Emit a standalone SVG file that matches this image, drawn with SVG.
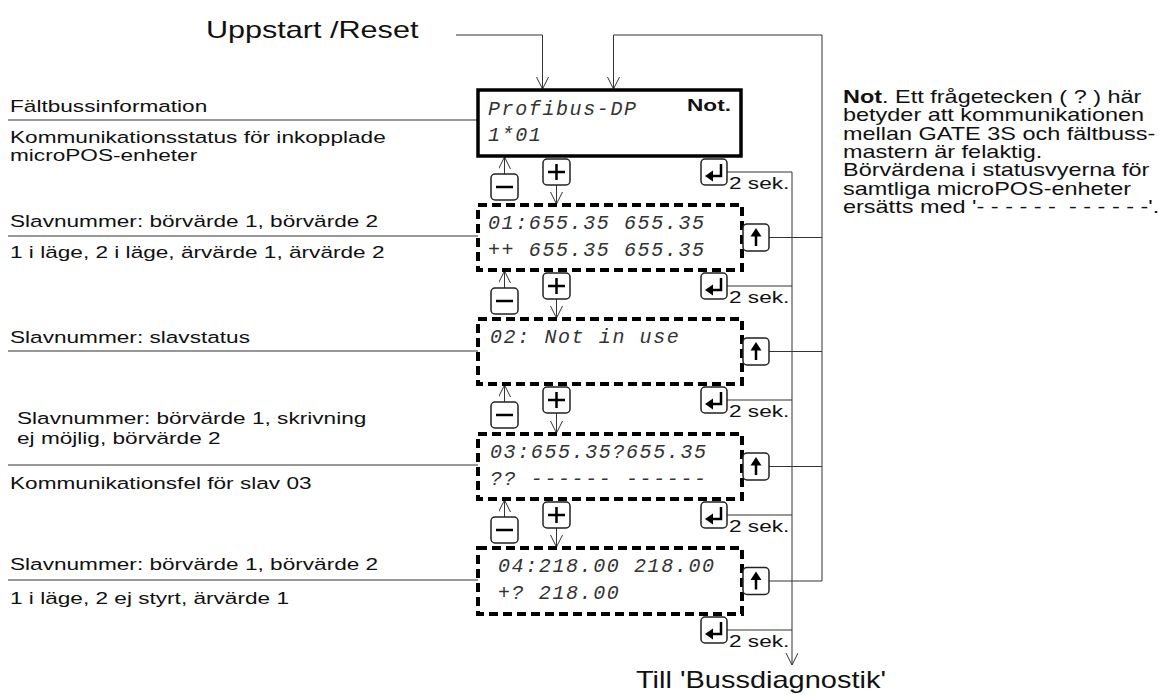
<svg xmlns="http://www.w3.org/2000/svg" width="1171" height="695" viewBox="0 0 1171 695">
<defs>
<style>
.lbl{font-family:"Liberation Sans",Arial,sans-serif;font-size:17px;fill:#111}
.big{font-family:"Liberation Sans",Arial,sans-serif;font-size:23px;fill:#111}
.note{font-family:"Liberation Sans",Arial,sans-serif;font-size:17.5px;fill:#111;white-space:pre}
.lcd{font-family:"Liberation Mono","Courier New",monospace;font-style:italic;font-size:20px;letter-spacing:1.6px;fill:#333;white-space:pre}
.ln{stroke:#333;stroke-width:1;fill:none}
.frame{fill:#fff;stroke:#000;stroke-width:3.5}
.box{fill:#fff;stroke:#000;stroke-width:4;stroke-dasharray:9 5}
.btn{fill:#fff;stroke:#222;stroke-width:1.5}
.ico{stroke:#000;stroke-width:2.5;fill:none}
</style>
<marker id="v" markerUnits="userSpaceOnUse" markerWidth="14" markerHeight="14" refX="12" refY="6" orient="auto" viewBox="0 0 14 14">
<path d="M0,0 L12,6 L0,12" fill="none" stroke="#333" stroke-width="1"/>
</marker>
<g id="bPlus"><rect x="0" y="0" width="27" height="26" rx="4" class="btn"/><path d="M5,13H22M13.5,5V21" class="ico"/></g>
<g id="bMinus"><rect x="0" y="0" width="27" height="26" rx="4" class="btn"/><path d="M5,13H22" class="ico" stroke-width="3"/></g>
<g id="bEnter"><rect x="0" y="0" width="26" height="26" rx="4" class="btn"/><path d="M20,5V17H11" class="ico" stroke-width="3"/><path d="M4,17L12,11.5V22.5Z" fill="#000"/></g>
<g id="bUp"><rect x="0" y="0" width="26" height="27" rx="4" class="btn"/><path d="M13,11V22" class="ico" stroke-width="3"/><path d="M13,4L18.5,12.5H7.5Z" fill="#000"/></g>
</defs>
<rect width="1171" height="695" fill="#fff"/>

<g id="connectors">
<path class="ln" d="M456,35H542.5V89" marker-end="url(#v)"/>
<path class="ln" d="M822,581V35H613.5V89" marker-end="url(#v)"/>
<path class="ln" d="M769,237.5H822M769,351.5H822M769,466.5H822M769,581H822"/>
<path class="ln" d="M727,172H792M727,286H792M727,400H792M727,515H792M727,630H792"/>
<path class="ln" d="M792,172V665" marker-end="url(#v)"/>
<path class="ln" d="M504.5,174V157" marker-end="url(#v)"/>
<path class="ln" d="M504.5,288V271" marker-end="url(#v)"/>
<path class="ln" d="M504.5,402V385" marker-end="url(#v)"/>
<path class="ln" d="M504.5,517V500" marker-end="url(#v)"/>
<path class="ln" d="M556.5,185V204" marker-end="url(#v)"/>
<path class="ln" d="M556.5,299V318" marker-end="url(#v)"/>
<path class="ln" d="M556.5,413V433" marker-end="url(#v)"/>
<path class="ln" d="M556.5,528V547" marker-end="url(#v)"/>
<path class="ln" d="M8,120H498M8,236H498M8,351H498M8,465H498M8,580H498"/>
</g>

<g id="title-start"><text class="big" transform="translate(206 38) scale(1.33 1)">Uppstart /Reset</text></g>
<g id="title-end"><text class="big" transform="translate(636 688) scale(1.26 1)">Till 'Bussdiagnostik'</text></g>

<g id="screen-main">
<rect class="frame" x="478" y="90" width="263" height="66"/>
<text class="lcd" x="488" y="115">Profibus-DP</text>
<text class="lcd" x="488" y="141">1*01</text>
<text class="lbl" font-weight="bold" transform="translate(687 111) scale(1.33 1)">Not.</text>
</g>

<g id="screen-01">
<rect class="box" x="478" y="205" width="264" height="65"/>
<text class="lcd" x="488" y="229">01:655.35 655.35</text>
<text class="lcd" x="488" y="256">++ 655.35 655.35</text>
</g>
<g id="screen-02">
<rect class="box" x="478" y="319" width="264" height="65"/>
<text class="lcd" x="490" y="343">02: Not in use</text>
</g>
<g id="screen-03">
<rect class="box" x="478" y="434" width="264" height="65"/>
<text class="lcd" x="490" y="458">03:655.35?655.35</text>
<text class="lcd" x="490" y="485">?? ------ ------</text>
</g>
<g id="screen-04">
<rect class="box" x="478" y="548" width="264" height="66"/>
<text class="lcd" x="498" y="572">04:218.00 218.00</text>
<text class="lcd" x="498" y="599">+? 218.00</text>
</g>

<g id="buttons">
<use href="#bMinus" x="491" y="174"/><use href="#bPlus" x="543" y="159"/><use href="#bEnter" x="701" y="159"/>
<use href="#bMinus" x="491" y="288"/><use href="#bPlus" x="543" y="273"/><use href="#bEnter" x="701" y="273"/>
<use href="#bMinus" x="491" y="402"/><use href="#bPlus" x="543" y="387"/><use href="#bEnter" x="701" y="387"/>
<use href="#bMinus" x="491" y="517"/><use href="#bPlus" x="543" y="502"/><use href="#bEnter" x="701" y="502"/>
<use href="#bEnter" x="701" y="617"/>
<use href="#bUp" x="743" y="224"/><use href="#bUp" x="743" y="338"/><use href="#bUp" x="743" y="453"/><use href="#bUp" x="743" y="567.5"/>
</g>

<g id="delays">
<text class="lbl" transform="translate(729 189) scale(1.33 1)">2 sek.</text>
<text class="lbl" transform="translate(729 303) scale(1.33 1)">2 sek.</text>
<text class="lbl" transform="translate(729 417) scale(1.33 1)">2 sek.</text>
<text class="lbl" transform="translate(729 532) scale(1.33 1)">2 sek.</text>
<text class="lbl" transform="translate(729 647) scale(1.33 1)">2 sek.</text>
</g>

<g id="labels">
<text class="lbl" transform="translate(10 112) scale(1.33 1)">Fältbussinformation</text>
<text class="lbl" transform="translate(10 143) scale(1.33 1)">Kommunikationsstatus för inkopplade</text>
<text class="lbl" transform="translate(10 161) scale(1.33 1)">microPOS-enheter</text>
<text class="lbl" transform="translate(10 227) scale(1.33 1)">Slavnummer: börvärde 1, börvärde 2</text>
<text class="lbl" transform="translate(10 258) scale(1.33 1)">1 i läge, 2 i läge, ärvärde 1, ärvärde 2</text>
<text class="lbl" transform="translate(10 343) scale(1.33 1)">Slavnummer: slavstatus</text>
<text class="lbl" transform="translate(17 424) scale(1.33 1)">Slavnummer: börvärde 1, skrivning</text>
<text class="lbl" transform="translate(17 444) scale(1.33 1)">ej möjlig, börvärde 2</text>
<text class="lbl" transform="translate(10 489) scale(1.33 1)">Kommunikationsfel för slav 03</text>
<text class="lbl" transform="translate(10 570) scale(1.33 1)">Slavnummer: börvärde 1, börvärde 2</text>
<text class="lbl" transform="translate(10 604) scale(1.33 1)">1 i läge, 2 ej styrt, ärvärde 1</text>
</g>

<g id="note">
<text class="note" transform="translate(843 103) scale(1.34 1)"><tspan font-weight="bold">Not</tspan>. Ett frågetecken ( ? ) här</text>
<text class="note" transform="translate(843 121) scale(1.34 1)">betyder att kommunikationen</text>
<text class="note" transform="translate(843 140) scale(1.34 1)">mellan GATE 3S och fältbuss-</text>
<text class="note" transform="translate(843 158) scale(1.34 1)">mastern är felaktig.</text>
<text class="note" transform="translate(843 176) scale(1.34 1)">Börvärdena i statusvyerna för</text>
<text class="note" transform="translate(843 195) scale(1.34 1)">samtliga microPOS-enheter</text>
<text class="note" transform="translate(843 213) scale(1.34 1)">ersätts med '- - - - - -  - - - - - -'.</text>
</g>
</svg>
